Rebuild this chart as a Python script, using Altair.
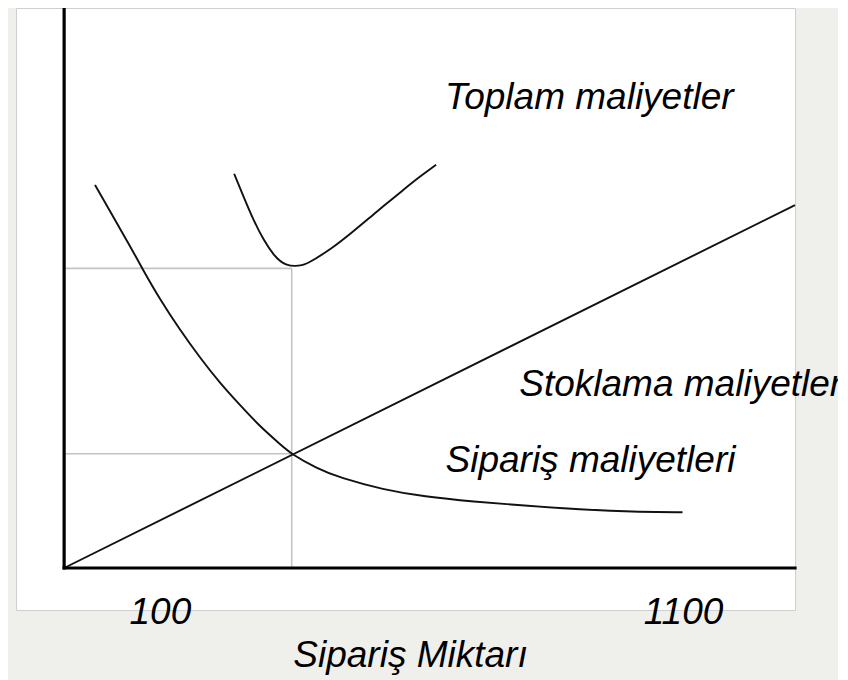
import altair as alt
import pandas as pd

# ---- data ----
# Sipariş maliyetleri (ordering costs)
siparis_x = [-24, 11, 43, 68, 100, 138.5, 177, 215, 253, 291, 330, 352, 400, 444, 527, 605, 700, 796, 898, 1025, 1099]
siparis_y = [68.4, 62.7, 57.5, 53.2, 48.0, 42.5, 37.5, 33.0, 29.1, 25.3, 22.1, 20.3, 17.8, 16.1, 14.0, 12.75, 11.85, 11.15, 10.45, 9.95, 9.95]

# Toplam maliyetler (total costs)
toplam_x = [242, 260, 279, 298, 317, 339, 374, 393, 425, 470, 514, 565, 597, 628]
toplam_y = [70.4, 66.3, 62.1, 58.6, 55.9, 53.9, 53.9, 55.0, 56.8, 60.1, 63.6, 67.5, 69.9, 72.0]

# Stoklama maliyetleri (holding costs) - straight line
stok_x = [-83, 1314]
stok_y = [0.0, 64.8]

# optimum point guides
opt_x = 352
opt_total = 53.5
opt_cross = 20.4

# axis origin
x_origin = -83
y_top = 100

# x tick labels
tick_values = [100, 1100]

# annotation labels
label_text = ["Toplam maliyetler", "Stoklama maliyetleri", "Sipariş maliyetleri"]
label_x = [645, 787, 646]
label_y = [81.9, 30.7, 17.2]

X_DOMAIN = [-175, 1314]
Y_DOMAIN = [-7.5, 100]
FONT = "Liberation Sans"
FS = 37

xs = alt.Scale(domain=X_DOMAIN, nice=False, zero=False)
ys = alt.Scale(domain=Y_DOMAIN, nice=False, zero=False)

curves = pd.DataFrame(
    [{"s": "siparis", "x": a, "y": b, "o": i} for i, (a, b) in enumerate(zip(siparis_x, siparis_y))]
    + [{"s": "toplam", "x": a, "y": b, "o": i} for i, (a, b) in enumerate(zip(toplam_x, toplam_y))]
    + [{"s": "stok", "x": a, "y": b, "o": i} for i, (a, b) in enumerate(zip(stok_x, stok_y))]
)

guides = pd.DataFrame({
    "x": [opt_x, x_origin, x_origin],
    "x2": [opt_x, opt_x, opt_x],
    "y": [0, opt_total, opt_cross],
    "y2": [opt_total, opt_total, opt_cross],
})

axes_df = pd.DataFrame({
    "x": [x_origin, x_origin],
    "x2": [x_origin, X_DOMAIN[1]],
    "y": [0, 0],
    "y2": [y_top, 0],
})

labels = pd.DataFrame({"t": label_text, "x": label_x, "y": label_y})

x_enc = alt.X(
    "x:Q",
    scale=xs,
    title="Sipariş Miktarı",
    axis=alt.Axis(
        values=tick_values,
        format="d",
        domain=False,
        ticks=False,
        tickSize=0,
        grid=False,
        labelFont=FONT,
        labelFontSize=FS,
        labelFontStyle="italic",
        labelColor="black",
        labelBaseline="alphabetic",
        labelPadding=13,
        labelFlush=False,
        labelOverlap=False,
        titleFont=FONT,
        titleFontSize=FS,
        titleFontStyle="italic",
        titleFontWeight="normal",
        titleColor="black",
        titleAlign="center",
        titleBaseline="alphabetic",
        titleX=394,
        titleY=56,
    ),
)

guide_layer = alt.Chart(guides).mark_rule(color="#c4c4c4", strokeWidth=1.6).encode(
    x=alt.X("x:Q", scale=xs), x2="x2:Q", y=alt.Y("y:Q", scale=ys, axis=None), y2="y2:Q"
)

curve_layer = alt.Chart(curves).mark_line(color="#111111", strokeWidth=1.9, interpolate="basis").encode(
    x=x_enc,
    y=alt.Y("y:Q", scale=ys, axis=None),
    detail="s:N",
    order="o:Q",
)

axis_layer = alt.Chart(axes_df).mark_rule(color="black", strokeWidth=3.2, strokeCap="square").encode(
    x=alt.X("x:Q", scale=xs), x2="x2:Q", y=alt.Y("y:Q", scale=ys, axis=None), y2="y2:Q"
)

text_layer = alt.Chart(labels).mark_text(
    font=FONT, fontSize=FS, fontStyle="italic", align="left", baseline="alphabetic", color="black"
).encode(
    x=alt.X("x:Q", scale=xs), y=alt.Y("y:Q", scale=ys, axis=None), text="t:N"
)

chart = (
    alt.layer(guide_layer, curve_layer, axis_layer, text_layer)
    .properties(
        width=779,
        height=602,
        autosize=alt.AutoSizeParams(type="none"),
        padding={"left": 8, "top": 0, "right": 43, "bottom": 70},
        background="#efefec",
    )
    .configure_view(fill="white", stroke="#cfcfcf", strokeWidth=1)
)

chart.save("out.html", embed_options={"renderer": "svg", "actions": False})
